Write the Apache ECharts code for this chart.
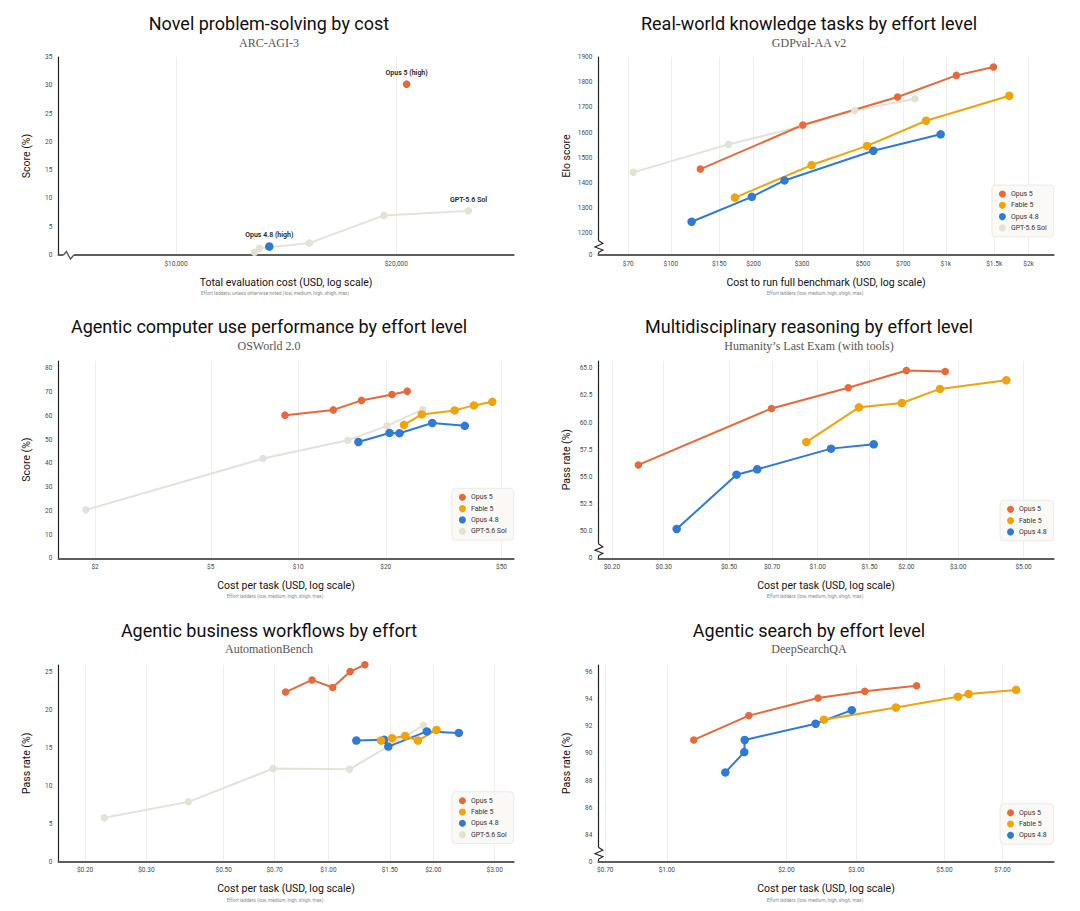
<!DOCTYPE html>
<html><head><meta charset="utf-8">
<script src="https://cdn.jsdelivr.net/npm/echarts@6/dist/echarts.min.js"></script>
<style>html,body{margin:0;padding:0;background:#fff}#c{width:1080px;height:911px}</style>
</head><body><div id="c"></div>
<script>
// ---------- DATA ----------
const seriesNames = ['Opus 5', 'Fable 5', 'Opus 4.8', 'GPT-5.6 Sol'];

// Panel 1: ARC-AGI-3
const p1_opus5 = [[20660, 30.2]];
const p1_opus48 = [[13410, 1.5]];
const p1_gpt = [[12800, 0.5], [13000, 1.2], [15210, 2.1], [19240, 7.0], [25100, 7.8]];
const p1_pointLabels = ['Opus 5 (high)', 'Opus 4.8 (high)', 'GPT-5.6 Sol'];
const p1_xTicks = [10000, 20000];
const p1_xLabels = ['$10,000', '$20,000'];
const p1_yTicks = [0, 5, 10, 15, 20, 25, 30, 35];
const p1_yLabels = ['0', '5', '10', '15', '20', '25', '30', '35'];

// Panel 2: GDPval-AA v2
const p2_opus5 = [[128, 1455], [302, 1630], [668, 1741], [1093, 1827], [1491, 1860]];
const p2_fable5 = [[171, 1342], [325, 1471], [517, 1547], [848, 1647], [1702, 1746]];
const p2_opus48 = [[119, 1246], [197, 1345], [259, 1410], [545, 1528], [958, 1593]];
const p2_gpt = [[73, 1442], [162, 1553], [302, 1626], [466, 1688], [772, 1734]];
const p2_xTicks = [70, 100, 150, 200, 300, 500, 700, 1000, 1500, 2000];
const p2_xLabels = ['$70', '$100', '$150', '$200', '$300', '$500', '$700', '$1k', '$1.5k', '$2k'];
const p2_yTicks = [1114, 1200, 1300, 1400, 1500, 1600, 1700, 1800, 1900];
const p2_yLabels = ['0', '1200', '1300', '1400', '1500', '1600', '1700', '1800', '1900'];

// Panel 3: OSWorld 2.0
const p3_opus5 = [[9.0, 60.3], [13.2, 62.5], [16.5, 66.5], [21.0, 69.0], [23.7, 70.4]];
const p3_fable5 = [[23.1, 56.2], [26.6, 60.6], [34.5, 62.3], [40.2, 64.4], [46.5, 65.9]];
const p3_opus48 = [[16.1, 49.0], [20.6, 52.8], [22.3, 52.7], [28.9, 57.0], [37.4, 55.8]];
const p3_gpt = [[1.86, 20.4], [7.56, 42.0], [14.8, 49.7], [20.2, 55.8], [26.8, 62.7]];
const p3_xTicks = [2, 5, 10, 20, 50];
const p3_xLabels = ['$2', '$5', '$10', '$20', '$50'];
const p3_yTicks = [0, 10, 20, 30, 40, 50, 60, 70, 80];
const p3_yLabels = ['0', '10', '20', '30', '40', '50', '60', '70', '80'];

// Panel 4: Humanity's Last Exam (with tools)
const p4_opus5 = [[0.246, 56.1], [0.697, 61.3], [1.27, 63.2], [2.0, 64.8], [2.71, 64.7]];
const p4_fable5 = [[0.915, 58.2], [1.38, 61.4], [1.93, 61.8], [2.60, 63.1], [4.37, 63.9]];
const p4_opus48 = [[0.332, 50.2], [0.53, 55.2], [0.623, 55.7], [1.11, 57.6], [1.55, 58.0]];
const p4_xTicks = [0.2, 0.3, 0.5, 0.7, 1, 1.5, 2, 3, 5];
const p4_xLabels = ['$0.20', '$0.30', '$0.50', '$0.70', '$1.00', '$1.50', '$2.00', '$3.00', '$5.00'];
const p4_yTicks = [47.5, 50, 52.5, 55, 57.5, 60, 62.5, 65];
const p4_yLabels = ['0', '50.0', '52.5', '55.0', '57.5', '60.0', '62.5', '65.0'];

// Panel 5: AutomationBench
const p5_opus5 = [[0.753, 22.4], [0.897, 24.0], [1.028, 23.0], [1.154, 25.1], [1.272, 26.0]];
const p5_fable5 = [[1.416, 16.0], [1.522, 16.3], [1.66, 16.6], [1.806, 16.0], [2.042, 17.4]];
const p5_opus48 = [[1.202, 16.0], [1.445, 16.1], [1.485, 15.2], [1.916, 17.2], [2.367, 17.0]];
const p5_gpt = [[0.227, 5.8], [0.396, 7.9], [0.694, 12.3], [1.149, 12.2], [1.873, 18.0]];
const p5_xTicks = [0.2, 0.3, 0.5, 0.7, 1, 1.5, 2, 3];
const p5_xLabels = ['$0.20', '$0.30', '$0.50', '$0.70', '$1.00', '$1.50', '$2.00', '$3.00'];
const p5_yTicks = [0, 5, 10, 15, 20, 25];
const p5_yLabels = ['0', '5', '10', '15', '20', '25'];

// Panel 6: DeepSearchQA
const p6_opus5 = [[1.169, 91.0], [1.609, 92.8], [2.403, 94.1], [3.152, 94.6], [4.254, 95.0]];
const p6_fable5 = [[2.486, 92.5], [3.774, 93.4], [5.405, 94.2], [5.752, 94.4], [7.576, 94.7]];
const p6_opus48 = [[1.404, 88.6], [1.567, 90.1], [1.571, 91.0], [2.37, 92.2], [2.922, 93.2]];
const p6_xTicks = [0.7, 1, 2, 3, 5, 7];
const p6_xLabels = ['$0.70', '$1.00', '$2.00', '$3.00', '$5.00', '$7.00'];
const p6_yTicks = [82, 84, 86, 88, 90, 92, 94, 96];
const p6_yLabels = ['0', '84', '86', '88', '90', '92', '94', '96'];

const titles = ['Novel problem-solving by cost', 'Real-world knowledge tasks by effort level',
  'Agentic computer use performance by effort level', 'Multidisciplinary reasoning by effort level',
  'Agentic business workflows by effort', 'Agentic search by effort level'];
const subtitles = ['ARC-AGI-3', 'GDPval-AA v2', 'OSWorld 2.0', 'Humanity\u2019s Last Exam (with tools)', 'AutomationBench', 'DeepSearchQA'];
const xNames = ['Total evaluation cost (USD, log scale)', 'Cost to run full benchmark (USD, log scale)',
  'Cost per task (USD, log scale)', 'Cost per task (USD, log scale)', 'Cost per task (USD, log scale)', 'Cost per task (USD, log scale)'];
const notes = ['Effort ladders, unless otherwise noted (low, medium, high, xhigh, max)',
  'Effort ladders (low, medium, high, xhigh, max)', 'Effort ladders (low, medium, high, xhigh, max)',
  'Effort ladders (low, medium, high, xhigh, max)', 'Effort ladders (low, medium, high, xhigh, max)',
  'Effort ladders (low, medium, high, xhigh, max)'];
const yNames = ['Score (%)', 'Elo score', 'Score (%)', 'Pass rate (%)', 'Pass rate (%)', 'Pass rate (%)'];

// ---------- STYLE / LAYOUT ----------
const FONT = 'Roboto, "Noto Sans", sans-serif';
const SERIF = '"Liberation Serif", "DejaVu Serif", serif';
const COLORS = {'Opus 5': '#E8683A', 'Fable 5': '#F0A30A', 'Opus 4.8': '#2E7AD6', 'GPT-5.6 Sol': '#E4E2D7'};
const SIZES = {'Opus 5': 7.5, 'Fable 5': 8.5, 'Opus 4.8': 8.5, 'GPT-5.6 Sol': 7.5};
const colLeft = [58.4, 598.4], gridW = 455.3;
const rowTop = [57, 361, 665], rowH = [198, 197.3, 196.7];
const titleX = [269, 809];
const titleY = [23, 326.7, 630.7], subY = [43, 345.7, 649.3], noteY = [293.3, 596.7, 900];

const panels = [
  {x: [6906, 28940], y: [0, 35], xT: p1_xTicks, xL: p1_xLabels, yT: p1_yTicks, yL: p1_yLabels,
   s: {'GPT-5.6 Sol': p1_gpt, 'Opus 4.8': p1_opus48, 'Opus 5': p1_opus5}, legend: null, brk: 'x'},
  {x: [54.5, 2469], y: [1114, 1900], xT: p2_xTicks, xL: p2_xLabels, yT: p2_yTicks, yL: p2_yLabels,
   s: {'GPT-5.6 Sol': p2_gpt, 'Opus 4.8': p2_opus48, 'Fable 5': p2_fable5, 'Opus 5': p2_opus5}, legend: 4, brk: 'y'},
  {x: [1.496, 55.08], y: [0, 83.1], xT: p3_xTicks, xL: p3_xLabels, yT: p3_yTicks, yL: p3_yLabels,
   s: {'GPT-5.6 Sol': p3_gpt, 'Opus 4.8': p3_opus48, 'Fable 5': p3_fable5, 'Opus 5': p3_opus5}, legend: 4, brk: null},
  {x: [0.180, 6.33], y: [47.5, 65.67], xT: p4_xTicks, xL: p4_xLabels, yT: p4_yTicks, yL: p4_yLabels,
   s: {'Opus 4.8': p4_opus48, 'Fable 5': p4_fable5, 'Opus 5': p4_opus5}, legend: 3, brk: 'y'},
  {x: [0.1677, 3.402], y: [0, 25.97], xT: p5_xTicks, xL: p5_xLabels, yT: p5_yTicks, yL: p5_yLabels,
   s: {'GPT-5.6 Sol': p5_gpt, 'Opus 4.8': p5_opus48, 'Fable 5': p5_fable5, 'Opus 5': p5_opus5}, legend: 4, brk: null},
  {x: [0.6727, 9.42], y: [82, 96.54], xT: p6_xTicks, xL: p6_xLabels, yT: p6_yTicks, yL: p6_yLabels,
   s: {'Opus 4.8': p6_opus48, 'Fable 5': p6_fable5, 'Opus 5': p6_opus5}, legend: 3, brk: 'y'}
];

function lookupLabel(ticks, labels, v) {
  let best = 0, bd = Infinity;
  ticks.forEach((t, i) => { const d = Math.abs(Math.log(Math.abs(v) + 1e-9) - Math.log(Math.abs(t) + 1e-9)); if (d < bd) { bd = d; best = i; } });
  return labels[best];
}
function lookupLin(ticks, labels, v) {
  let best = 0, bd = Infinity;
  ticks.forEach((t, i) => { const d = Math.abs(v - t); if (d < bd) { bd = d; best = i; } });
  return labels[best];
}

const grid = [], xAxis = [], yAxis = [], series = [], legend = [], title = [];
panels.forEach((p, i) => {
  const col = i % 2, row = Math.floor(i / 2);
  grid.push({left: colLeft[col], top: rowTop[row], width: gridW, height: rowH[row], containLabel: false, outerBoundsMode: 'none'});
  xAxis.push({
    type: 'log', gridIndex: i, min: p.x[0], max: p.x[1], logBase: 10,
    name: xNames[i], nameLocation: 'middle', nameGap: 21.5,
    nameTextStyle: {fontFamily: FONT, fontSize: 10.5, color: '#111', fontWeight: 'normal'},
    axisLine: {show: true, lineStyle: {color: '#5e5e5e', width: 1.8}},
    axisTick: {show: false, customValues: p.xT},
    axisLabel: {customValues: p.xT, fontFamily: FONT, fontSize: 6.5, color: '#4a4a4a', margin: 5,
      formatter: (v) => lookupLabel(p.xT, p.xL, v)},
    splitLine: {show: true, lineStyle: {color: '#EFEEE8', width: 1}},
    minorTick: {show: false}, minorSplitLine: {show: false}
  });
  yAxis.push({
    type: 'value', gridIndex: i, min: p.y[0], max: p.y[1],
    name: yNames[i], nameLocation: 'middle', nameGap: 26, nameRotate: 90,
    nameTextStyle: {fontFamily: FONT, fontSize: 10.5, color: '#111', fontWeight: 'normal'},
    axisLine: {show: true, lineStyle: {color: '#222', width: 1.2}},
    axisTick: {show: false, customValues: p.yT},
    axisLabel: {customValues: p.yT, fontFamily: FONT, fontSize: 6.5, color: '#4a4a4a', margin: 6,
      formatter: (v) => lookupLin(p.yT, p.yL, v)},
    splitLine: {show: false}
  });
  Object.keys(p.s).forEach((name) => {
    let data = p.s[name];
    if (i === 0) {
      const lblIdx = {'Opus 5': 0, 'Opus 4.8': 1, 'GPT-5.6 Sol': 2}[name];
      data = data.map((d, k) => {
        if (k === data.length - 1) {
          return {value: d, label: {show: true, position: 'top', distance: 4, formatter: p1_pointLabels[lblIdx],
            fontFamily: FONT, fontSize: 7, fontWeight: 600, color: '#222'}};
        }
        return d;
      });
    }
    series.push({
      type: 'line', name: name, xAxisIndex: i, yAxisIndex: i, data: data,
      symbol: 'circle', symbolSize: SIZES[name], showSymbol: true, clip: false,
      itemStyle: {color: COLORS[name], borderWidth: 0},
      lineStyle: {color: COLORS[name], width: 2},
      emphasis: {disabled: true}, silent: true, animation: false
    });
  });
  if (p.legend) {
    const gb = rowTop[row] + rowH[row];
    const h = p.legend === 4 ? 52 : 40;
    legend.push({
      data: seriesNames.slice(0, p.legend), orient: 'vertical',
      right: 1080 - (colLeft[col] + gridW), top: gb - 18 - h,
      icon: 'circle', itemWidth: 7, itemHeight: 7, itemGap: 4.3,
      padding: [5.5, 7, 5.5, 7],
      backgroundColor: '#FAF9F5', borderColor: '#ECEAE2', borderWidth: 1, borderRadius: 4,
      textStyle: {fontFamily: FONT, fontSize: 7, color: '#333', lineHeight: 7},
      selectedMode: false
    });
  }
  title.push({text: titles[i], left: titleX[col], top: titleY[row], textAlign: 'center', textVerticalAlign: 'middle', padding: 0,
    textStyle: {fontFamily: FONT, fontSize: 18, fontWeight: 'normal', color: '#0f0f0f'}});
  title.push({text: subtitles[i], left: titleX[col], top: subY[row], textAlign: 'center', textVerticalAlign: 'middle', padding: 0,
    textStyle: {fontFamily: SERIF, fontSize: 12, fontWeight: 'normal', color: '#555'}});
  title.push({text: notes[i], left: titleX[col] + 6, top: noteY[row], textAlign: 'center', textVerticalAlign: 'middle', padding: 0,
    textStyle: {fontFamily: FONT, fontSize: 4.8, fontWeight: 'normal', color: '#8a8a8a'}});
});

const chart = echarts.init(document.getElementById('c'), null, {renderer: 'svg', width: 1080, height: 911});
chart.setOption({
  animation: false, backgroundColor: '#ffffff',
  textStyle: {fontFamily: FONT},
  title: title, grid: grid, xAxis: xAxis, yAxis: yAxis, series: series, legend: legend,
  tooltip: {show: false}
});

// axis-break zigzags (decoration placed via axis conversion)
const graphics = [];
panels.forEach((p, i) => {
  if (!p.brk) return;
  const o = chart.convertToPixel({gridIndex: i}, [p.x[0], p.y[0]]);
  if (p.brk === 'y') {
    const x = o[0], y0 = o[1] - 14.5;
    graphics.push({type: 'rect', shape: {x: x - 2, y: y0, width: 4, height: 12}, style: {fill: '#fff'}, z: 100, silent: true});
    graphics.push({type: 'polyline', shape: {points: [[x, y0], [x + 4.5, y0 + 3], [x - 3.5, y0 + 6.5], [x + 4.5, y0 + 9.5], [x, y0 + 12]]},
      style: {stroke: '#222', lineWidth: 1.1, fill: null}, z: 101, silent: true});
  } else {
    const x0 = o[0] + 5, y = o[1];
    graphics.push({type: 'rect', shape: {x: x0, y: y - 2, width: 10.5, height: 4}, style: {fill: '#fff'}, z: 100, silent: true});
    graphics.push({type: 'polyline', shape: {points: [[x0, y], [x0 + 3, y - 3.5], [x0 + 7, y + 4], [x0 + 10.5, y]]},
      style: {stroke: '#555', lineWidth: 1.3, fill: null}, z: 101, silent: true});
  }
});
chart.setOption({graphic: graphics});
</script></body></html>
